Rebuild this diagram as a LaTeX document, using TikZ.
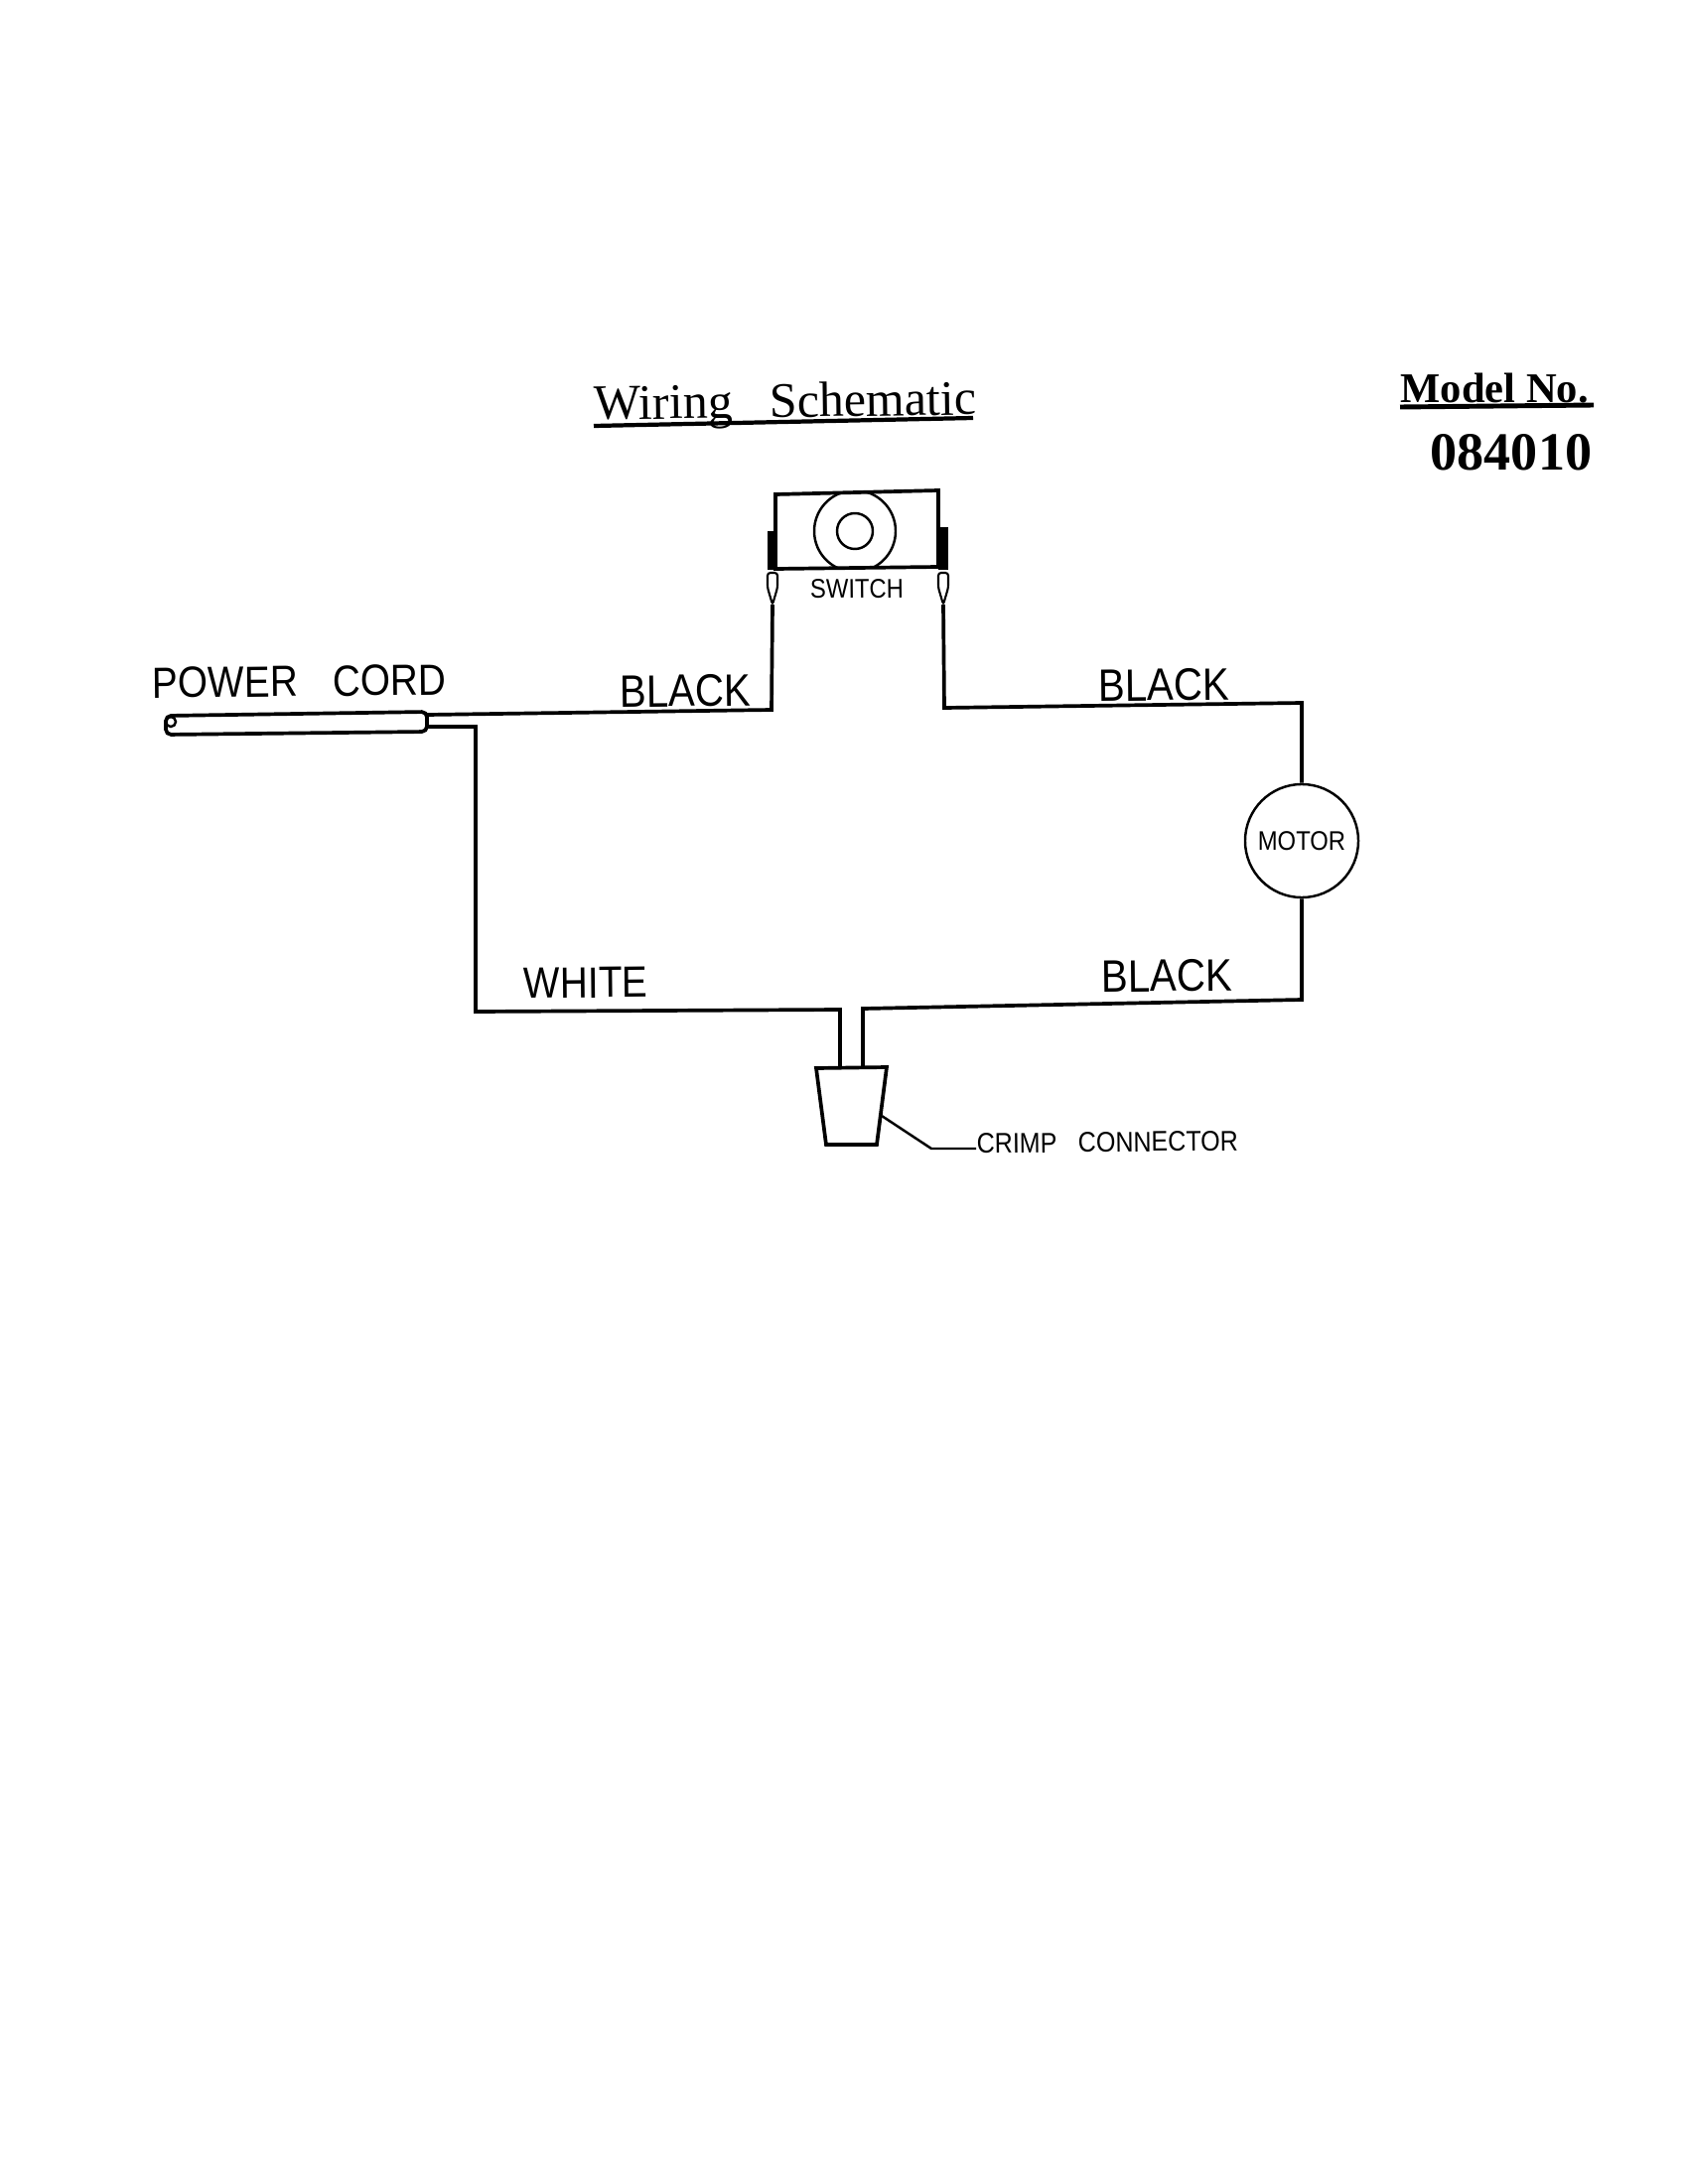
\documentclass[tikz,border=0pt]{standalone}
\usepackage{fontspec}
\setmainfont{Liberation Serif}
\newfontfamily\cadfont[FakeStretch=0.88]{Liberation Sans}
\usepackage{tikz}

\tikzset{
    wire/.style={line width=1.05pt, line join=miter},
    thinwire/.style={line width=0.7pt},
    cadlabel/.style={font=\cadfont\fontsize{#1}{#1}\selectfont, inner sep=0pt, rotate=0.6},
    lug/.style={line width=0.6pt, rounded corners=0.8pt}
}

\begin{document}
\begin{tikzpicture}[x=0.01cm, y=-0.01cm]
    \useasboundingbox (0,0) rectangle (1696,2200);

    % Headings
    \node[inner sep=0pt, anchor=base west, font=\fontsize{14.2}{14.2}\selectfont, rotate=0.8] (title) at (598,423) {Wiring\hspace{0.75em}Schematic};
    \draw[line width=1.2pt] (598,429) -- (980,421);
    \node[inner sep=0pt, anchor=base west, font=\bfseries\fontsize{12.1}{12.1}\selectfont] (model) at (1410,405) {Model No.};
    \draw[line width=1.4pt] (1410,410) -- (1605,408);
    \node[inner sep=0pt, anchor=base west, font=\bfseries\fontsize{15.4}{15.4}\selectfont] (number) at (1440,473) {084010};

    % Switch
    \draw[wire] (781,498) -- (945,494) -- (945,571) -- (781,573) -- cycle;
    \begin{scope}
        \clip (781,498) -- (945,494) -- (945,571) -- (781,573) -- cycle;
        \draw[thinwire] (861,535) circle (41);
    \end{scope}
    \draw[thinwire] (861,535) circle (18);
    \node[cadlabel=7.7] (switch) at (863,593) {SWITCH};

    % Terminals
    \foreach \x/\y/\n in {778/535/a, 950/531/b} {
        \fill (\x-5,\y) rectangle (\x+5,574);
        \draw[lug] (\x-5,577) -- (\x+5,577) -- (\x+5,592) -- (\x,609) -- (\x-5,592) -- cycle;
        \coordinate (lug\n) at (\x,609);
    }

    % Power cord
    \draw[wire, rounded corners=1.5pt] (430,717) -- (167,721) -- (167,740) -- (430,737) -- cycle;
    \draw[thinwire] (172,727) circle (5);
    \coordinate (cordtop) at (430,720);
    \coordinate (cordlow) at (430,732);
    \node[cadlabel=12.5, anchor=west] (cord) at (153,688) {POWER\hspace{0.8em}CORD};

    % Motor
    \node[draw, circle, thinwire, minimum size=1.14cm, inner sep=0pt, font=\cadfont\fontsize{7.7}{7.7}\selectfont] (motor) at (1311,847) {MOTOR};

    % Crimp connector
    \draw[wire] (822,1076) -- (893,1075) -- (883,1153) -- (832,1153) -- cycle;
    \coordinate (crimpl) at (846,1076);
    \coordinate (crimpr) at (869,1076);
    \coordinate (lead) at (888,1124);
    \coordinate (leadend) at (983,1157);
    \node[cadlabel=8.1, anchor=west] (crimp) at (983,1152) {CRIMP\hspace{0.75em}CONNECTOR};

    % Wires
    \draw[wire] (cordtop) -- (777,715) -- (luga);
    \draw[wire] (lugb) -- (951,713) -- (1311,708) -- (motor.north);
    \draw[wire] (motor.south) -- (1311,1007) -- (869,1016) -- (crimpr);
    \draw[wire] (cordlow) -- (479,732) -- (479,1019) -- (846,1017) -- (crimpl);
    \draw[thinwire] (lead) -- (938,1157) -- (leadend);

    % Wire colours
    \node[cadlabel=13] (blackone) at (690,696) {BLACK};
    \node[cadlabel=13] (blacktwo) at (1172,690) {BLACK};
    \node[cadlabel=13] (blackthree) at (1175,983) {BLACK};
    \node[cadlabel=12.5] (white) at (590,990) {WHITE};
\end{tikzpicture}
\end{document}
